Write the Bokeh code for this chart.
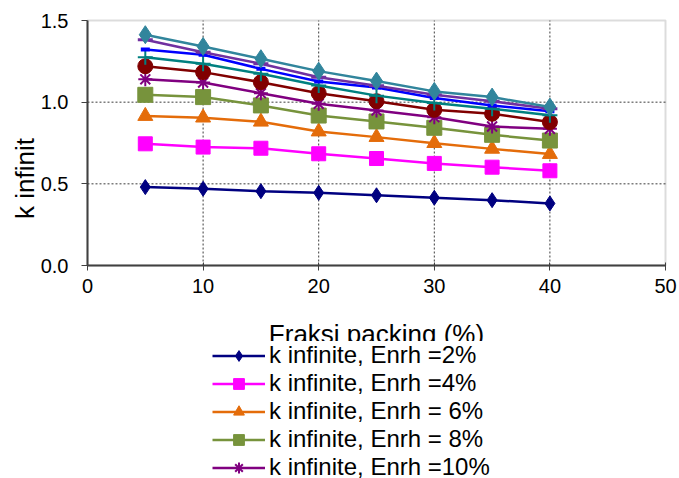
from math import pi

from bokeh.embed import file_html
from bokeh.models import (BoxAnnotation, FixedTicker, Label, Legend, LegendItem,
                          LinearAxis, PrintfTickFormatter, Range1d)
from bokeh.plotting import figure
from bokeh.resources import INLINE

# Packing fraction (%) on the x axis
packing = [5, 10, 15, 20, 25, 30, 35, 40]

# k infinite for each enrichment level
k_enr2 = [0.48, 0.47, 0.455, 0.445, 0.43, 0.415, 0.40, 0.38]
k_enr4 = [0.745, 0.725, 0.718, 0.684, 0.655, 0.625, 0.602, 0.58]
k_enr6 = [0.915, 0.905, 0.88, 0.82, 0.786, 0.749, 0.714, 0.682]
k_enr8 = [1.045, 1.031, 0.98, 0.918, 0.882, 0.843, 0.80, 0.765]
k_enr10 = [1.14, 1.12, 1.055, 0.99, 0.949, 0.908, 0.851, 0.837]
k_enr12 = [1.22, 1.184, 1.122, 1.055, 1.006, 0.953, 0.929, 0.878]
k_enr14 = [1.275, 1.235, 1.174, 1.102, 1.04, 0.995, 0.96, 0.92]
k_enr16 = [1.323, 1.29, 1.204, 1.127, 1.09, 1.025, 0.98, 0.945]
k_enr18 = [1.382, 1.306, 1.235, 1.153, 1.10, 1.045, 1.005, 0.96]
k_enr20 = [1.413, 1.341, 1.266, 1.19, 1.129, 1.066, 1.031, 0.97]

series_labels = [
    "k infinite, Enrh =2%",
    "k infinite, Enrh =4%",
    "k infinite, Enrh = 6%",
    "k infinite, Enrh = 8%",
    "k infinite, Enrh =10%",
    "k infinite, Enrh =12%",
    "k infinite, Enrh =14%",
    "k infinite, Enrh =16%",
    "k infinite, Enrh =18%",
    "k infinite, Enrh =20%",
]
series_values = [k_enr2, k_enr4, k_enr6, k_enr8, k_enr10,
                 k_enr12, k_enr14, k_enr16, k_enr18, k_enr20]

# axis extents and tick positions
x_min, x_max = 0, 50
y_min, y_max = 0, 1.5
x_ticks = [0, 10, 20, 30, 40, 50]
y_ticks = [0, 0.5, 1.0, 1.5]
x_grid = [10, 20, 30, 40]
y_grid = [0.5, 1.0]

# marker style per series: (colour, marker, size, marker line width)
styles = [
    ("#000080", "diamond", 15, 1),
    ("#FF00FF", "square", 14, 1),
    ("#E46C0A", "triangle", 15, 1),
    ("#77933C", "square", 15, 1),
    ("#800080", "asterisk", 14, 2),
    ("#800000", "circle", 15, 1),
    ("#008080", "cross", 15, 2),
    ("#0000FF", "dash", 9, 4),
    ("#7030A0", "dash", 15, 3),
    ("#31859C", "diamond", 18, 1),
]

FONT = "Liberation Sans"
W, H = 679, 478
# plot area placement on the canvas (pixels)
left_px, right_px, top_px, bottom_px = 87, 665, 20, 265

# the frame fills the whole canvas; the ranges are padded so that the
# data area lands on the plot-area rectangle and the legend can hang below
xs = (right_px - left_px) / (x_max - x_min)
ys = (bottom_px - top_px) / (y_max - y_min)
x_range = Range1d(x_min - left_px / xs, x_max + (W - right_px) / xs)
y_range = Range1d(y_min - (H - bottom_px) / ys, y_max + top_px / ys)

p = figure(width=W, height=H, output_backend="svg", toolbar_location=None,
           x_range=x_range, y_range=y_range, x_axis_type=None, y_axis_type=None,
           min_border=0, min_border_left=0, min_border_right=0,
           min_border_top=0, min_border_bottom=0)
p.outline_line_color = None
p.background_fill_color = "white"
p.border_fill_color = "white"
p.xgrid.visible = False
p.ygrid.visible = False

# plot-area border (grey, top and right show; axes cover the other two)
p.add_layout(BoxAnnotation(left=x_min, right=x_max, bottom=y_min, top=y_max,
                           fill_alpha=0, line_color="#8c8c8c", line_width=2,
                           level="underlay"))

# dotted grid inside the plot area
p.segment(x0=x_grid, y0=[y_min] * len(x_grid), x1=x_grid, y1=[y_max] * len(x_grid),
          line_color="#3c3c3c", line_dash="2 2", line_width=1)
p.segment(x0=[x_min] * len(y_grid), y0=y_grid, x1=[x_max] * len(y_grid), y1=y_grid,
          line_color="#3c3c3c", line_dash="2 2", line_width=1)

xaxis = LinearAxis(fixed_location=y_min, bounds=(x_min, x_max),
                   ticker=FixedTicker(ticks=x_ticks))
yaxis = LinearAxis(fixed_location=x_min, bounds=(y_min, y_max),
                   ticker=FixedTicker(ticks=y_ticks),
                   formatter=PrintfTickFormatter(format="%.1f"))
for ax in (xaxis, yaxis):
    ax.axis_line_color = "#404040"
    ax.axis_line_width = 2
    ax.major_tick_line_color = "#404040"
    ax.minor_tick_line_color = None
    ax.major_label_text_font = FONT
    ax.major_label_text_font_size = "20px"
    ax.major_label_text_color = "black"
xaxis.major_tick_in = 3
xaxis.major_tick_out = 5
xaxis.major_label_standoff = 8
yaxis.major_tick_in = 0
yaxis.major_tick_out = 6
yaxis.major_label_standoff = 13
p.add_layout(xaxis, "below")
p.add_layout(yaxis, "left")

items = []
for label, vals, (color, marker, size, mlw) in zip(series_labels, series_values, styles):
    ln = p.line(packing, vals, line_color=color, line_width=2.5)
    sc = p.scatter(packing, vals, marker=marker, size=size,
                   fill_color=color, line_color=color, line_width=mlw)
    items.append(LegendItem(label=label, renderers=[ln, sc]))

# axis titles
p.add_layout(Label(x=(x_min + x_max) / 2, y=H - 333, y_units="screen",
                   text="Fraksi packing (%)", text_align="center",
                   text_baseline="alphabetic", text_font=FONT,
                   text_font_size="26px", text_color="black"))
p.add_layout(Label(x=24, y=H - 178, x_units="screen", y_units="screen",
                   text="k infinit", angle=pi / 2, text_align="center",
                   text_baseline="alphabetic", text_font=FONT,
                   text_font_size="26px", text_color="black"))

# legend hangs below the axis title, overlapping its lower part
legend = Legend(items=items, location=(212, -143), orientation="vertical",
                label_text_font=FONT, label_text_font_size="24px",
                label_text_color="black", label_text_line_height=1.0,
                label_standoff=4, label_height=27,
                glyph_width=53, glyph_height=27, spacing=0, padding=0, margin=0,
                border_line_alpha=0, background_fill_color="white",
                background_fill_alpha=1.0)
p.add_layout(legend)

open("out.html", "w").write(file_html(p, INLINE))
